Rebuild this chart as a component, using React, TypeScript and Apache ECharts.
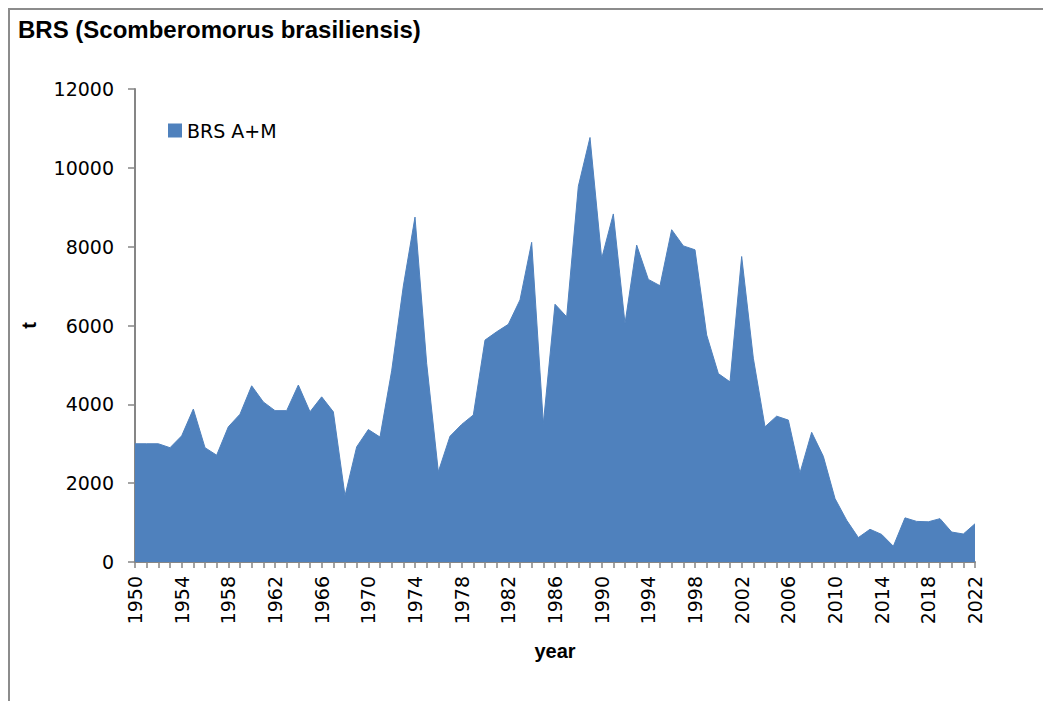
import React, { useEffect, useRef } from "react";
import * as echarts from "echarts";

const years: string[] = [];
for (let y = 1950; y <= 2022; y++) years.push(String(y));

const catchValues: number[] = [
  3000, 3000, 3000, 2900, 3200, 3880, 2900, 2710, 3430, 3750,
  4470, 4060, 3840, 3840, 4490, 3810, 4190, 3810, 1680, 2920,
  3360, 3170, 4850, 7000, 8750, 5040, 2290, 3190, 3490, 3730,
  5630, 5840, 6030, 6650, 8110, 3510, 6540, 6220, 9530, 10770,
  7700, 8830, 6050, 8040, 7170, 7010, 8430, 8020, 7920, 5760,
  4780, 4570, 7750, 5170, 3430, 3700, 3600, 2260, 3290, 2680,
  1610, 1060, 620, 830, 700, 400, 1120, 1030, 1020, 1100,
  760, 710, 970,
];

const seriesName = "BRS A+M";
const chartTitle = "BRS (Scomberomorus brasiliensis)";

export default function App() {
  const ref = useRef<HTMLDivElement>(null);
  useEffect(() => {
    if (!ref.current) return;
    const chart = echarts.init(ref.current, undefined, { renderer: "svg" });
    const axisColor = "#868686";
    const labelFont = "DejaVu Sans";
    chart.setOption({
      animation: false,
      backgroundColor: "#ffffff",
      title: {
        text: chartTitle,
        left: 18,
        top: 17,
        padding: 0,
        textStyle: {
          fontFamily: "Liberation Sans",
          fontWeight: "bold",
          fontSize: 24,
          color: "#000",
        },
      },
      legend: {
        data: [seriesName],
        left: 168,
        top: 121,
        icon: "rect",
        itemWidth: 14,
        itemHeight: 14,
        itemGap: 6,
        padding: 0,
        textStyle: { fontFamily: labelFont, fontSize: 19, color: "#000", padding: [0, 0, 0, 0] },
      },
      grid: { left: 135, right: 68, top: 89, bottom: 139, containLabel: false },
      xAxis: {
        type: "category",
        data: years,
        boundaryGap: false,
        name: "year",
        nameLocation: "middle",
        nameGap: 79,
        nameTextStyle: { fontFamily: "Liberation Sans", fontWeight: "bold", fontSize: 20, color: "#000" },
        axisLine: { lineStyle: { color: axisColor, width: 2 } },
        axisTick: { show: true, interval: 0, length: 6, lineStyle: { color: axisColor, width: 1.5 } },
        axisLabel: {
          interval: 3,
          rotate: 90,
          margin: 14,
          fontFamily: labelFont,
          fontSize: 19,
          color: "#000",
        },
        splitLine: { show: false },
      },
      yAxis: {
        type: "value",
        min: 0,
        max: 12000,
        interval: 2000,
        name: "t",
        nameLocation: "middle",
        nameRotate: 90,
        nameGap: 96,
        nameTextStyle: { fontFamily: "Liberation Sans", fontWeight: "bold", fontSize: 20, color: "#000" },
        axisLine: { show: true, lineStyle: { color: axisColor, width: 2 } },
        axisTick: { show: true, length: 7, lineStyle: { color: axisColor, width: 1.5 } },
        axisLabel: {
          margin: 21,
          fontFamily: labelFont,
          fontSize: 19,
          color: "#000",
          formatter: (v: number) => String(v),
        },
        splitLine: { show: false },
      },
      graphic: [
        {
          type: "line",
          shape: { x1: 9, y1: 8, x2: 9, y2: 701 },
          style: { stroke: "#8c8c8c", lineWidth: 2 },
          silent: true,
        },
        {
          type: "line",
          shape: { x1: 8, y1: 9, x2: 1043, y2: 9 },
          style: { stroke: "#8c8c8c", lineWidth: 2 },
          silent: true,
        },
      ],
      series: [
        {
          name: seriesName,
          type: "line",
          data: catchValues,
          symbol: "none",
          lineStyle: { color: "#4f81bd", width: 1 },
          itemStyle: { color: "#4f81bd" },
          areaStyle: { color: "#4f81bd", opacity: 1 },
        },
      ],
    });
    return () => chart.dispose();
  }, []);
  return (
    <div
      ref={ref}
      style={{ position: "fixed", left: 0, top: 0, width: 1043, height: 701, background: "#fff" }}
    />
  );
}
